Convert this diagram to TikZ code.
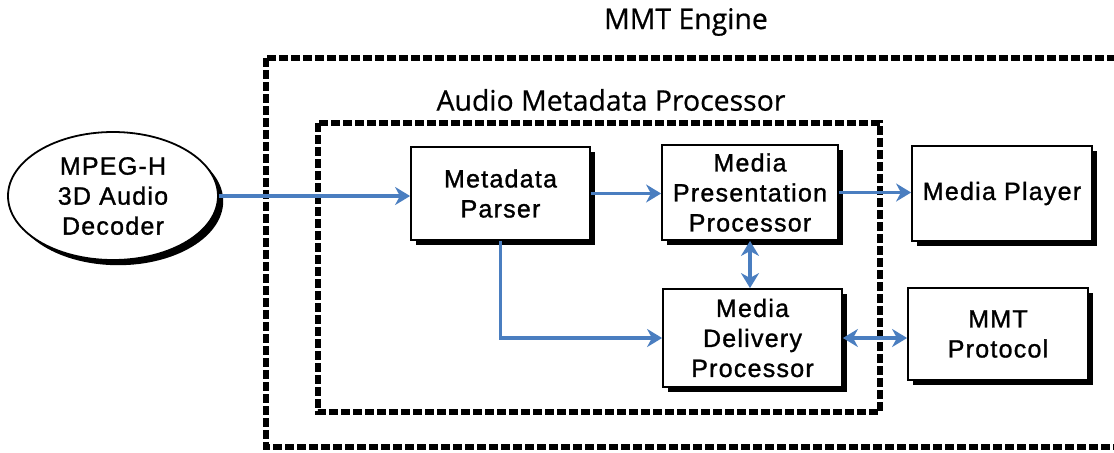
\documentclass[tikz,border=0pt]{standalone}
\usepackage{fontspec}
\setmainfont{Liberation Sans}
\newfontfamily\boxfont{Liberation Sans}[FakeBold=1.2, LetterSpace=5]
\newfontfamily\titlefont{Open Sans}[FakeBold=0.6]
\usetikzlibrary{arrows.meta,shadows,shapes.geometric}
\definecolor{flow}{HTML}{4A7EC0}
\tikzset{
  block/.style={draw=black, line width=0.9pt, fill=white, align=center,
    font=\boxfont\fontsize{12.5}{15}\selectfont,
    drop shadow={shadow xshift=2.6pt, shadow yshift=-2.6pt, fill=black, opacity=1}},
  boundary/.style={draw=black, line width=2.6pt, dash pattern=on 4.4pt off 1.6pt},
  link/.style={draw=flow, line width=1.7pt, -{Stealth[length=7.5pt,width=9pt,inset=2.4pt]}},
  twoway/.style={link, {Stealth[length=7.5pt,width=9pt,inset=2.4pt]}-{Stealth[length=7.5pt,width=9pt,inset=2.4pt]}},
  heading/.style={font=\titlefont\fontsize{14.2}{16}\selectfont}
}
\begin{document}
\begin{tikzpicture}[x=0.5pt,y=-0.5pt]
\useasboundingbox (0,0) rectangle (1114,452);
\clip (0,0) rectangle (1114,452);

% engine and processor boundaries
\draw[boundary] (266,58) rectangle (1130,447);
\draw[boundary] (318,123) rectangle (880,412);
\node[heading] (engtitle) at (686,22) {MMT Engine};
\node[heading] (proctitle) at (611,100) {Audio Metadata Processor};

% components
\node[block, ellipse, minimum width=105pt, minimum height=64pt, inner sep=0pt] (dec) at (113,196) {MPEG-H\\3D Audio\\Decoder};
\node[block, minimum width=89.5pt, minimum height=46.5pt] (parser) at (500.5,193.5) {Metadata\\Parser};
\node[block, minimum width=88pt, minimum height=47.5pt] (pres) at (750,192.5) {Media\\Presentation\\Processor};
\node[block, minimum width=89.5pt, minimum height=49pt] (deliv) at (752.5,338) {Media\\Delivery\\Processor};
\node[block, minimum width=90pt, minimum height=47.5pt] (player) at (1002,193.5) {Media Player};
\node[block, minimum width=90pt, minimum height=46pt] (proto) at (998,334) {MMT\\Protocol};

% data flow
\draw[link] (dec.east) -- (dec.east -| parser.west);
\draw[link] (parser.east) -- (parser.east -| pres.west);
\draw[link] (pres.east) -- (pres.east -| player.west);
\draw[link] (parser.south) |- (deliv.west);
\draw[twoway] (pres.south) -- (pres.south |- deliv.north);
\draw[twoway] (deliv.east) -- (deliv.east -| proto.west);
\end{tikzpicture}
\end{document}
